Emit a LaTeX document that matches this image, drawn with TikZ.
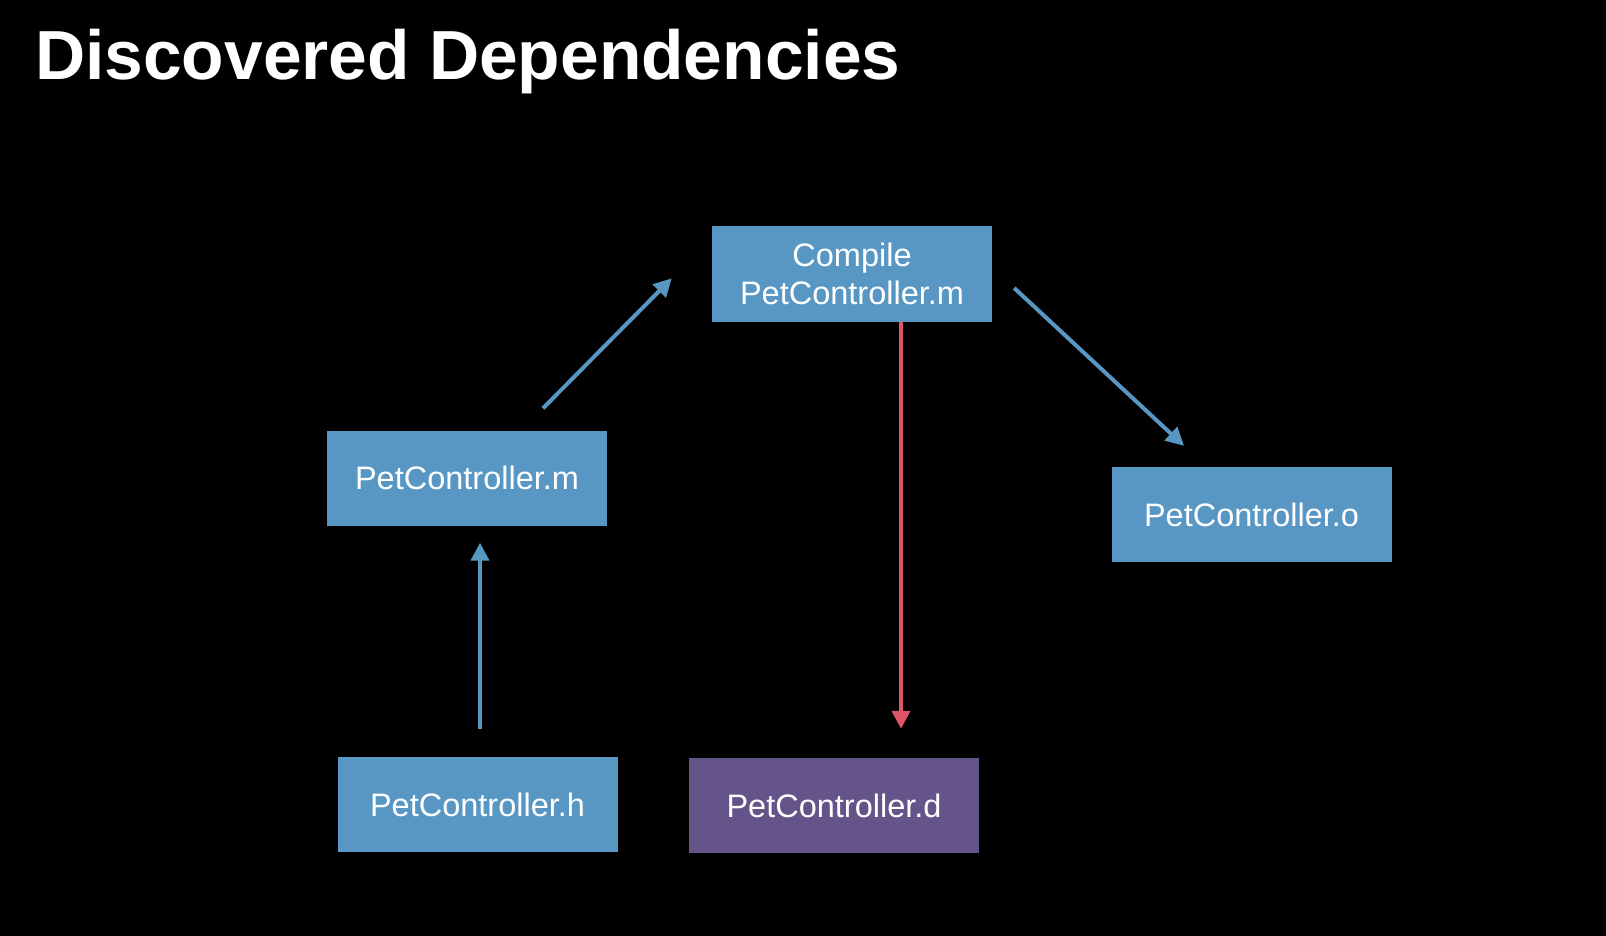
\documentclass[tikz,border=0pt]{standalone}
\usepackage{fontspec}
\setmainfont{Liberation Sans}
\usetikzlibrary{arrows.meta,positioning}
\definecolor{DepBlue}{HTML}{5897C4}
\definecolor{DepPurple}{HTML}{655489}
\definecolor{DepRed}{HTML}{DE5568}
\begin{document}
\begin{tikzpicture}[x=1pt,y=-1pt,
  file/.style={fill=DepBlue,text=white,inner sep=0pt,minimum width=280pt,minimum height=95pt,align=center,font=\fontsize{32.5}{38}\selectfont},
  depfile/.style={file,fill=DepPurple,minimum width=290pt},
  link/.style={draw=DepBlue,line width=4pt,-{Triangle[length=18pt,width=18pt]}},
  newlink/.style={link,draw=DepRed,fill=DepRed}]
  \fill[black] (0,0) rectangle (1606,936);
  \useasboundingbox (0,0) rectangle (1606,936);
  \node[anchor=base west,inner sep=0pt,text=white,font=\fontsize{69.5}{80}\selectfont\bfseries] (title) at (35,80) {Discovered Dependencies};
  \node[file] (cm) at (852,274) {Compile\\PetController.m};
  \node[file] (pm) at (467,478) {PetController.m};
  \node[file] (po) at (1251.5,514.5) {PetController.o};
  \node[file] (ph) at (477.5,804.5) {PetController.h};
  \node[depfile] (pd) at (834,805.5) {PetController.d};
  \draw[link] ([xshift=76pt,yshift=22pt]pm.north) -- ([xshift=-40pt,yshift=-52pt]cm.north west);
  \draw[link] ([xshift=22pt,yshift=-14pt]cm.east) -- ([xshift=-67.5pt,yshift=21pt]po.north);
  \draw[link] ([xshift=2.5pt,yshift=28pt]ph.north) -- ([xshift=13pt,yshift=-17pt]pm.south);
  \draw[newlink] ([xshift=49pt]cm.south) -- ([xshift=67pt,yshift=29pt]pd.north);
\end{tikzpicture}
\end{document}
